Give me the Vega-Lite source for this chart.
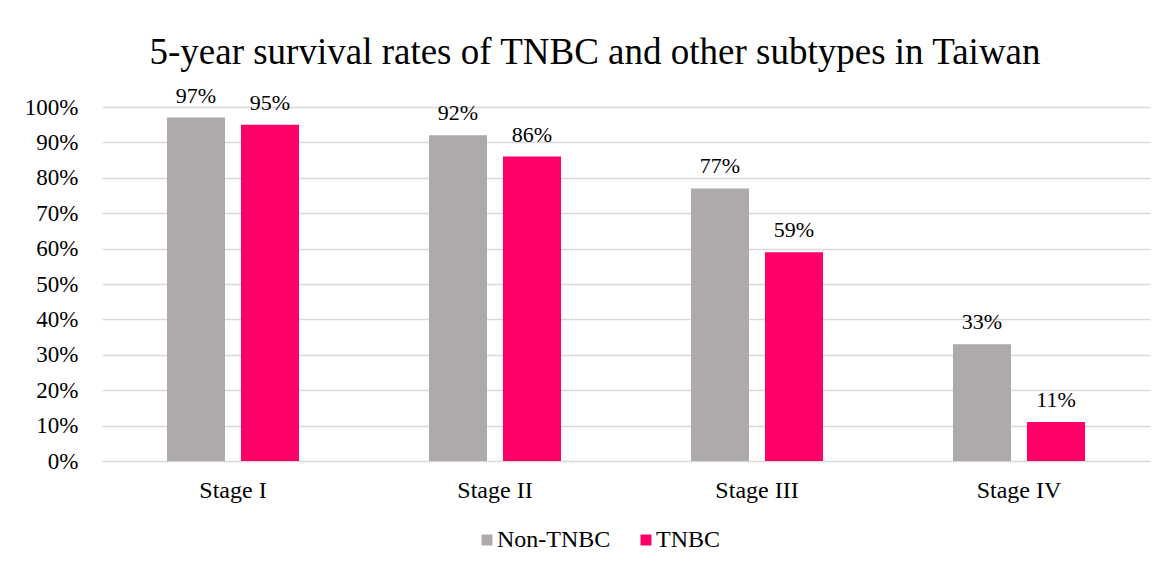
{
  "$schema": "https://vega.github.io/schema/vega-lite/v6.json",
  "width": 1048,
  "height": 354,
  "autosize": {"type": "none"},
  "padding": {"left": 102, "top": 107, "right": 25, "bottom": 111},
  "background": "white",
  "title": {
    "text": "5-year survival rates of TNBC and other subtypes in Taiwan",
    "font": "Liberation Serif",
    "fontSize": 37,
    "fontWeight": "normal",
    "color": "#000000",
    "anchor": "middle",
    "dx": -31,
    "offset": 13
  },
  "data": {
    "values": [
      {"stage": "Stage I", "group": "Non-TNBC", "rate": 0.97},
      {"stage": "Stage I", "group": "TNBC", "rate": 0.95},
      {"stage": "Stage II", "group": "Non-TNBC", "rate": 0.92},
      {"stage": "Stage II", "group": "TNBC", "rate": 0.86},
      {"stage": "Stage III", "group": "Non-TNBC", "rate": 0.77},
      {"stage": "Stage III", "group": "TNBC", "rate": 0.59},
      {"stage": "Stage IV", "group": "Non-TNBC", "rate": 0.33},
      {"stage": "Stage IV", "group": "TNBC", "rate": 0.11}
    ]
  },
  "encoding": {
    "x": {
      "field": "stage",
      "type": "nominal",
      "sort": null,
      "title": null,
      "scale": {"paddingInner": 0, "paddingOuter": 0},
      "axis": {
        "labelAngle": 0,
        "domain": false,
        "ticks": false,
        "labelFont": "Liberation Serif",
        "labelFontSize": 24,
        "labelColor": "#000000",
        "labelBaseline": "alphabetic",
        "labelPadding": 36
      }
    },
    "xOffset": {
      "field": "group",
      "type": "nominal",
      "sort": ["Non-TNBC", "TNBC"],
      "scale": {"paddingInner": 0.216, "paddingOuter": 0.878}
    },
    "y": {
      "field": "rate",
      "type": "quantitative",
      "title": null,
      "scale": {"domain": [0, 1], "nice": false},
      "axis": {
        "format": ".0%",
        "values": [0, 0.1, 0.2, 0.3, 0.4, 0.5, 0.6, 0.7, 0.8, 0.9, 1.0],
        "labelOverlap": false,
        "domain": false,
        "ticks": false,
        "grid": true,
        "gridColor": "#D9D9D9",
        "gridWidth": 1.5,
        "labelFont": "Liberation Serif",
        "labelFontSize": 23,
        "labelColor": "#000000",
        "labelPadding": 24
      }
    }
  },
  "layer": [
    {
      "mark": {"type": "bar"},
      "encoding": {
        "color": {
          "field": "group",
          "type": "nominal",
          "sort": ["Non-TNBC", "TNBC"],
          "scale": {"domain": ["Non-TNBC", "TNBC"], "range": ["#ADAAA9", "#FF0066"]},
          "legend": {
            "title": null,
            "orient": "none",
            "direction": "horizontal",
            "legendX": 373,
            "legendY": 421,
            "symbolType": "square",
            "symbolSize": 121,
            "symbolStrokeWidth": 0,
            "labelFont": "Liberation Serif",
            "labelFontSize": 24,
            "labelColor": "#000000",
            "labelOffset": -2,
            "columnPadding": 23
          }
        }
      }
    },
    {
      "mark": {
        "type": "text",
        "baseline": "alphabetic",
        "dy": -15,
        "font": "Liberation Serif",
        "fontSize": 22,
        "color": "#000000"
      },
      "encoding": {
        "text": {"field": "rate", "type": "quantitative", "format": ".0%"}
      }
    }
  ],
  "config": {
    "font": "Liberation Serif",
    "view": {"stroke": null}
  }
}
